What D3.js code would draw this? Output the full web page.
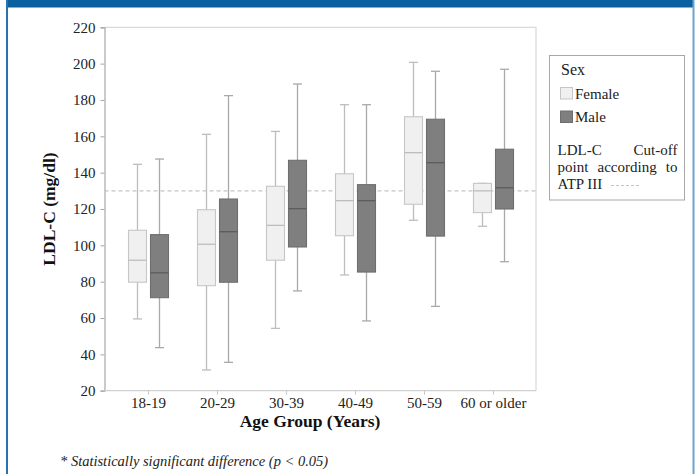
<!DOCTYPE html>
<html>
<head>
<meta charset="utf-8">
<script src="https://cdn.jsdelivr.net/npm/d3@7"></script>
<style>
  body { margin: 0; background: #fff; }
  svg { display: block; }
  svg text { font-family: "Liberation Serif", "Times New Roman", serif; }
</style>
</head>
<body>
<svg id="chart" width="700" height="474"></svg>
<script>
// age groups on the x axis
const ageGroups = ['18-19', '20-29', '30-39', '40-49', '50-59', '60 or older']
// box stats per group: [low whisker, q1, median, q3, high whisker]
const femaleStats = [
  [59.5, 79.7, 91.8, 108.3, 144.6],
  [31.4, 77.8, 100.6, 119.6, 161.1],
  [54.3, 91.8, 111, 132.5, 162.7],
  [83.7, 105.3, 124.6, 139.4, 177.4],
  [113.8, 122.6, 151, 170.8, 200.7],
  [110.5, 118, 130, 134.1, 134.1]
]
const maleStats = [
  [43.7, 71.2, 84.9, 105.9, 147.5],
  [35.6, 79.7, 107.5, 125.5, 182.4],
  [74.9, 99.1, 120.2, 146.8, 188.8],
  [58.4, 85.3, 124.6, 133.4, 177.4],
  [66.4, 105.1, 145.5, 169.4, 195.8],
  [91, 120, 131.7, 152.9, 196.9]
]
const yTicks = [20, 40, 60, 80, 100, 120, 140, 160, 180, 200, 220]
const cutOff = 130

const svg = d3.select('#chart')
const plot = {left: 104.5, right: 536, top: 27.3, bottom: 390.7}

// page frame (blue bar on top, side borders)
svg.append('rect').attr('x', 6).attr('y', 0).attr('width', 688).attr('height', 7.5).attr('fill', '#0b60a0')
svg.append('rect').attr('x', 6).attr('y', 0).attr('width', 2).attr('height', 474).attr('fill', '#2a72ad')
svg.append('rect').attr('x', 692.5).attr('y', 0).attr('width', 2).attr('height', 474).attr('fill', '#6aa3cc')

const xScale = d3.scalePoint().domain(ageGroups).range([148, 493])
const yScale = d3.scaleLinear().domain([20, 220]).range([plot.bottom, plot.top])

// plot frame (top and right)
svg.append('path')
  .attr('d', `M${plot.left},${plot.top}H${plot.right}V${plot.bottom}`)
  .attr('fill', 'none').attr('stroke', '#d9d9d9').attr('stroke-width', 1.2)

// y axis
const yAxis = svg.append('g')
  .attr('transform', `translate(${plot.left},0)`)
  .call(d3.axisLeft(yScale).tickValues(yTicks).tickSize(4).tickPadding(5))
yAxis.attr('font-family', null)
yAxis.select('.domain').attr('stroke', '#a8a8a8').attr('stroke-width', 1.2)
yAxis.selectAll('.tick line').attr('stroke', '#a8a8a8')
yAxis.selectAll('text').attr('font-size', 15).attr('fill', '#222')

// x axis
const xAxis = svg.append('g')
  .attr('transform', `translate(0,${plot.bottom})`)
  .call(d3.axisBottom(xScale).tickSize(4).tickPadding(3))
xAxis.attr('font-family', null)
xAxis.select('.domain').attr('d', `M${plot.left},0H${plot.right}`).attr('stroke', '#d0d0d0').attr('stroke-width', 1.2)
xAxis.selectAll('.tick line').attr('stroke', '#c8c8c8')
xAxis.selectAll('text').attr('font-size', 15).attr('fill', '#222')

// cut-off line
svg.append('line')
  .attr('x1', plot.left).attr('x2', plot.right)
  .attr('y1', yScale(cutOff)).attr('y2', yScale(cutOff))
  .attr('stroke', '#c4c4c4').attr('stroke-width', 1.2).attr('stroke-dasharray', '4,3')

const boxW = 18
const capW = 9
const series = [
  {stats: femaleStats, dx: -10.5, fill: '#f0f0f0', stroke: '#c6c6c6', med: '#bdbdbd', whisk: '#bdbdbd'},
  {stats: maleStats, dx: 11.5, fill: '#7f7f7f', stroke: '#6e6e6e', med: '#5c5c5c', whisk: '#a9a9a9'}
]

series.forEach(s => {
  const g = svg.append('g')
  s.stats.forEach((d, i) => {
    const cx = xScale(ageGroups[i]) + s.dx
    const [lo, q1, med, q3, hi] = d
    // whiskers
    g.append('line').attr('x1', cx).attr('x2', cx).attr('y1', yScale(hi)).attr('y2', yScale(q3))
      .attr('stroke', s.whisk).attr('stroke-width', 1.3)
    g.append('line').attr('x1', cx).attr('x2', cx).attr('y1', yScale(q1)).attr('y2', yScale(lo))
      .attr('stroke', s.whisk).attr('stroke-width', 1.3)
    g.append('line').attr('x1', cx - capW / 2).attr('x2', cx + capW / 2).attr('y1', yScale(hi)).attr('y2', yScale(hi))
      .attr('stroke', s.whisk).attr('stroke-width', 1.3)
    g.append('line').attr('x1', cx - capW / 2).attr('x2', cx + capW / 2).attr('y1', yScale(lo)).attr('y2', yScale(lo))
      .attr('stroke', s.whisk).attr('stroke-width', 1.3)
    // box
    g.append('rect')
      .attr('x', cx - boxW / 2).attr('width', boxW)
      .attr('y', yScale(q3)).attr('height', yScale(q1) - yScale(q3))
      .attr('fill', s.fill).attr('stroke', s.stroke).attr('stroke-width', 1.1)
    g.append('line').attr('x1', cx - boxW / 2).attr('x2', cx + boxW / 2).attr('y1', yScale(med)).attr('y2', yScale(med))
      .attr('stroke', s.med).attr('stroke-width', 1.3)
  })
})

// axis titles
svg.append('text')
  .attr('x', 310).attr('y', 427)
  .attr('text-anchor', 'middle').attr('font-size', 17.5).attr('font-weight', 'bold').attr('fill', '#111')
  .text('Age Group (Years)')

svg.append('text')
  .attr('transform', `translate(55,${(plot.top + plot.bottom) / 2}) rotate(-90)`)
  .attr('text-anchor', 'middle').attr('font-size', 17.5).attr('font-weight', 'bold').attr('fill', '#111')
  .text('LDL-C (mg/dl)')

// footnote
svg.append('text')
  .attr('x', 60).attr('y', 466)
  .attr('font-size', 14.5).attr('font-style', 'italic').attr('fill', '#222')
  .text('* Statistically significant difference (p < 0.05)')

// legend
const leg = svg.append('g')
leg.append('rect').attr('x', 549.5).attr('y', 55.5).attr('width', 135).attr('height', 144.5)
  .attr('fill', '#fff').attr('stroke', '#a8a8a8').attr('stroke-width', 1)
leg.append('text').attr('x', 561).attr('y', 75).attr('font-size', 16).attr('fill', '#222').text('Sex')
const legItems = [
  {label: 'Female', fill: series[0].fill, stroke: series[0].stroke, y: 87.5},
  {label: 'Male', fill: series[1].fill, stroke: series[1].stroke, y: 111}
]
legItems.forEach(it => {
  leg.append('rect').attr('x', 560.5).attr('y', it.y).attr('width', 12).attr('height', 11.5)
    .attr('fill', it.fill).attr('stroke', it.stroke)
  leg.append('text').attr('x', 575).attr('y', it.y + 11).attr('font-size', 15).attr('fill', '#222').text(it.label)
})

// justified note text: first word at left edge, last at right, rest spread evenly
const noteLines = [['LDL-C', 'Cut-off'], ['point', 'according', 'to'], ['ATP III']]
const noteLeft = 557.5, noteRight = 677.5
noteLines.forEach((words, i) => {
  const y = 155 + i * 17
  const nodes = words.map(w => leg.append('text').attr('y', y).attr('font-size', 15).attr('fill', '#222').text(w))
  const widths = nodes.map(n => n.node().getComputedTextLength())
  const justify = i < noteLines.length - 1 && words.length > 1
  const gap = justify ? (noteRight - noteLeft - d3.sum(widths)) / (words.length - 1) : 4
  let x = noteLeft
  nodes.forEach((n, j) => {
    n.attr('x', x)
    x += widths[j] + gap
  })
})
leg.append('line').attr('x1', 611).attr('x2', 641).attr('y1', 185.5).attr('y2', 185.5)
  .attr('stroke', '#c4c4c4').attr('stroke-width', 1).attr('stroke-dasharray', '3,2')
</script>
</body>
</html>
